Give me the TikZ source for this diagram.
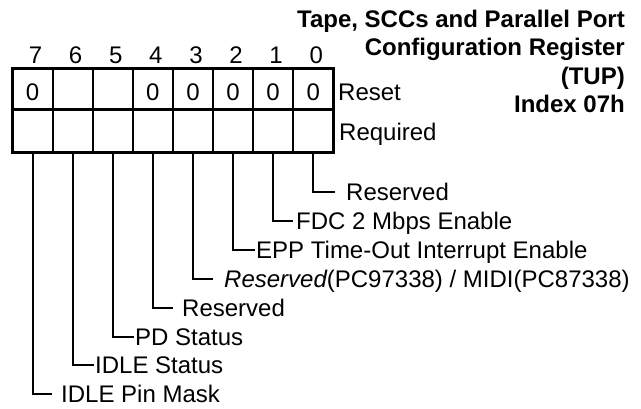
\documentclass[tikz,border=0pt]{standalone}
\usepackage{fontspec}
\setmainfont{Liberation Sans}
\begin{document}
\begin{tikzpicture}[x=1pt,y=-1pt,
  txt/.style={inner sep=0pt, font=\fontsize{24}{28}\selectfont},
  ttl/.style={inner sep=0pt, font=\fontsize{24}{28}\selectfont\bfseries, anchor=base east},
  lbl/.style={txt, anchor=base west},
  val/.style={txt, anchor=base},
  conn/.style={line width=2pt},
  divider/.style={line width=2pt},
  frame/.style={line width=3pt},
  ]
\useasboundingbox[fill=white] (0,0) rectangle (641,408);
\def\L{12.5}\def\W{40.1}\def\T{68}\def\M{109.5}\def\B{152}
% grid
\foreach \i in {1,...,7} \draw[divider] ({\L+\i*\W},\T) -- ({\L+\i*\W},\B);
\draw[line width=2.6pt] (\L,\M) -- ({\L+8*\W},\M);
\draw[frame] (\L,\T) rectangle ({\L+8*\W},\B);
% bit numbers
\foreach \b in {0,...,7} \node[val] (bit\b) at ({\L+(7-\b+0.5)*\W+3},63) {\b};
% reset values
\foreach \b in {0,1,2,3,4,7} \node[val] (rst\b) at ({\L+(7-\b+0.5)*\W},100) {0};
\node[lbl] (reset) at (338,100) {Reset};
\node[lbl] (req) at (339,140) {Required};
% title
\node[ttl] (t1) at (625,27) {Tape, SCCs and Parallel Port};
\node[ttl] (t2) at (625,55.5) {Configuration Register};
\node[ttl] (t3) at (625,84) {(TUP)};
\node[ttl] (t4) at (625,112.5) {Index 07h};
% bottom coordinates and elbows
\foreach \b/\ex in {0/335,1/293,2/255,3/213,4/173,5/134,6/94,7/52} {
  \coordinate (top\b) at ({\L+(7-\b+0.5)*\W},\B);
  \coordinate (elb\b) at (\ex,{192+28.9*\b});
}
% labels
\node[lbl] (l0) at (346,{192+8.5}) {Reserved};
\node[lbl] (l1) at (296,{192+28.9+8.5}) {FDC 2 Mbps Enable};
\node[lbl] (l2) at (256,{192+2*28.9+8.5}) {EPP Time-Out Interrupt Enable};
\node[lbl] (l3) at (224,{192+3*28.9+8.5}) {{\itshape Reserved}(PC97338) / MIDI(PC87338)};
\node[lbl] (l4) at (182,{192+4*28.9+8.5}) {Reserved};
\node[lbl] (l5) at (135,{192+5*28.9+8.5}) {PD Status};
\node[lbl] (l6) at (95,{192+6*28.9+8.5}) {IDLE Status};
\node[lbl] (l7) at (61,{192+7*28.9+8.5}) {IDLE Pin Mask};
% connectors
\foreach \b in {0,...,7} \draw[conn] (top\b) |- (elb\b);
\end{tikzpicture}
\end{document}
